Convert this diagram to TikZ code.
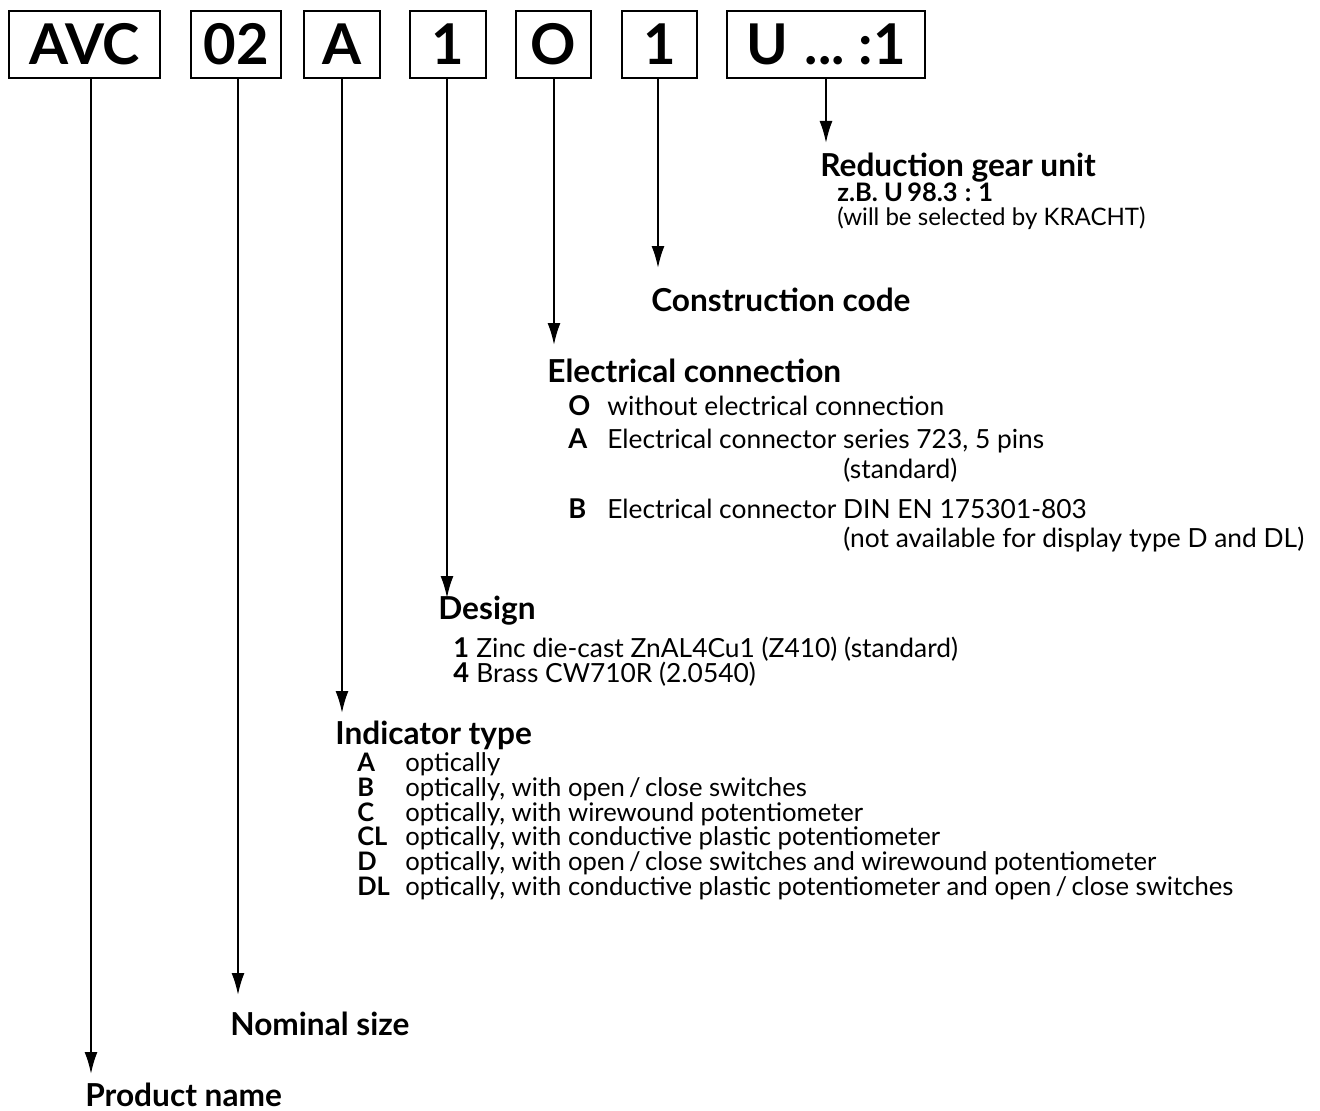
\documentclass[tikz,border=0pt]{standalone}
\usepackage{fontspec}
\setmainfont{Lato}
\usetikzlibrary{arrows.meta}

\begin{document}
\begin{tikzpicture}[x=0.02cm,y=-0.02cm]
    \tikzset{
      codebox/.style={draw,line width=1.2pt,minimum height=1.34cm,inner sep=0pt,
        font={\fontsize{32}{32}\selectfont\bfseries}},
      stem/.style={line width=1.1pt,-{Latex[length=4.4mm,width=2.6mm]}},
      heading/.style={anchor=base west,inner sep=0pt,font={\fontsize{18}{20}\selectfont\bfseries}},
      key/.style={anchor=base west,inner sep=0pt,font={\fontsize{15.5}{16}\selectfont\bfseries}},
      entry/.style={anchor=base west,inner sep=0pt,font={\fontsize{15}{16}\selectfont}},
      smallkey/.style={key,font={\fontsize{14.5}{16}\selectfont\bfseries}},
      smallentry/.style={entry,font={\fontsize{14.6}{16}\selectfont}},
    }
    \useasboundingbox (0,0) rectangle (1320,1111);
    % the code boxes
    \node[codebox,minimum width=3.02cm] (avc) at (84.5,44.5) {AVC};
    \node[codebox,minimum width=1.8cm] (size) at (236,44.5) {02};
    \node[codebox,minimum width=1.52cm] (ind) at (342,44.5) {A};
    \node[codebox,minimum width=1.52cm] (des) at (448,44.5) {1};
    \node[codebox,minimum width=1.5cm] (elec) at (553.5,44.5) {O};
    \node[codebox,minimum width=1.5cm] (cons) at (659.5,44.5) {1};
    \node[codebox,minimum width=3.96cm] (gear) at (826,44.5) {U\hspace{.3em}...\hspace{.25em}:1};
    % arrow ends
    \coordinate (avctip) at (91,1074);
    \coordinate (sizetip) at (238,995);
    \coordinate (indtip) at (342,713);
    \coordinate (destip) at (447,598);
    \coordinate (electip) at (554,345);
    \coordinate (constip) at (658,268);
    \coordinate (geartip) at (826,143);
    \draw[stem] (avctip |- avc.south) -- (avctip);
    \draw[stem] (sizetip |- size.south) -- (sizetip);
    \draw[stem] (indtip |- ind.south) -- (indtip);
    \draw[stem] (destip |- des.south) -- (destip);
    \draw[stem] (electip |- elec.south) -- (electip);
    \draw[stem] (constip |- cons.south) -- (constip);
    \draw[stem] (geartip |- gear.south) -- (geartip);
    % reduction gear unit
    \node[heading] (redgear) at (820,177) {Reduction gear unit};
    \node[key,font={\fontsize{14.5}{16}\selectfont\bfseries}] (gearex) at (837,202) {z.B. U\,98.3\;:\;1};
    \node[entry,font={\fontsize{13.7}{16}\selectfont}] (gearsel) at (837,226) {(will be selected by KRACHT)};
    % construction code
    \node[heading] (concode) at (651,312) {Construction code};
    % electrical connection
    \node[heading] (elconn) at (547,383) {Electrical connection};
    \node[key] (elO) at (568,416) {O};
    \node[entry] (elOt) at (607,416) {without electrical connection};
    \node[key] (elA) at (568,449) {A};
    \node[entry] (elAt) at (607,449) {Electrical connector series 723, 5 pins};
    \node[entry] (elAs) at (843,479) {(standard)};
    \node[key] (elB) at (568,519) {B};
    \node[entry] (elBt) at (607,519) {Electrical connector DIN EN 175301-803};
    \node[entry] (elBs) at (843,548) {(not available for display type D and DL)};
    % design
    \node[heading] (design) at (438,620) {Design};
    \node[key] (des1) at (453,658) {1};
    \node[entry] (des1t) at (476,658) {Zinc die-cast ZnAL4Cu1 (Z410) (standard)};
    \node[key] (des4) at (453,683) {4};
    \node[entry] (des4t) at (476,683) {Brass CW710R (2.0540)};
    % indicator type
    \node[heading] (indtype) at (335,745) {Indicator type};
    \node[smallkey] (indA) at (357,772) {A};
    \node[smallentry] (indAt) at (405,772) {optically};
    \node[smallkey] (indB) at (357,797) {B};
    \node[smallentry] (indBt) at (405,797) {optically, with open\,/\,close switches};
    \node[smallkey] (indC) at (357,821.5) {C};
    \node[smallentry] (indCt) at (405,821.5) {optically, with wirewound potentiometer};
    \node[smallkey] (indCL) at (357,846) {CL};
    \node[smallentry] (indCLt) at (405,846) {optically, with conductive plastic potentiometer};
    \node[smallkey] (indD) at (357,870.5) {D};
    \node[smallentry] (indDt) at (405,870.5) {optically, with open\,/\,close switches and wirewound potentiometer};
    \node[smallkey] (indDL) at (357,895) {DL};
    \node[smallentry] (indDLt) at (405,895) {optically, with conductive plastic potentiometer and open\,/\,close switches};
    % nominal size, product name
    \node[heading] (nsize) at (230,1035) {Nominal size};
    \node[heading] (pname) at (85,1106) {Product name};
\end{tikzpicture}
\end{document}
